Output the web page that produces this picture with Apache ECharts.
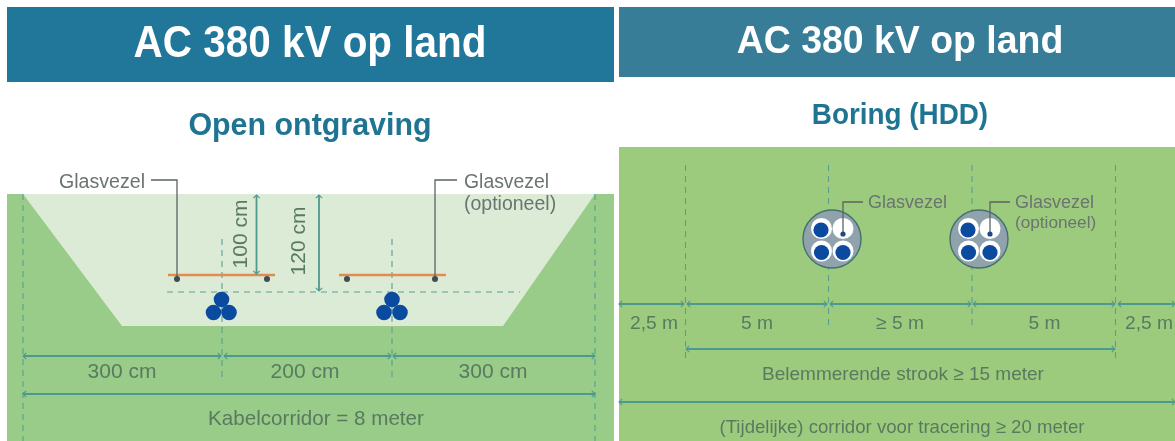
<!DOCTYPE html>
<html><head><meta charset="utf-8">
<style>html,body{margin:0;padding:0;background:#fff}#c{width:1175px;height:441px}</style>
<script src="https://cdn.jsdelivr.net/npm/echarts@6/dist/echarts.min.js"></script>
</head><body><div id="c"></div>
<script>
// Schematic geometry, in diagram units
const headerBands = [[7,7,614,82,'L'],[619,7,1175,77,'R']];
const groundAreas = [[7,194,614,441,'L'],[619,147,1175,441,'R']];
const trench = [[23,194],[595,194],[503,326],[122,326]];
const orangeBars = [[168,275,275],[339,275,446]];
const dashedV = [[23,194,441],[595,194,441],[222,239,377],[392,239,377],
                 [685.5,165,358],[828.5,165,328],[972,165,328],[1115.5,165,358]];
const dashedH = [[167,292,520]];
const dimH = [[23,221,356],[224,391,356],[393,595,356],[23,595,394],
              [619,684,304],[687,827,304],[830,971,304],[973,1115,304],[1118,1175,304],
              [686,1115,349],[619,1175,402]];
const dimV = [[256.5,195,274],[319,195,291]];
const leaders = [
  [[151,180],[177,180],[177,279]],[[457,180],[435,180],[435,279]],
  [[863,202],[843,202],[843,234]],[[1010,202],[990,202],[990,234]]];
const fibreDots = [[177,279],[267,279],[347,279],[435,279]];
const cableTrefoil = [[221.5,299.5],[213.5,312.5],[229,312.5],[392,299.5],[384,312.5],[400,312.5]];
const ductBodies = [[832,239],[979,239]];
const ductWhite = [[821.5,228.5],[843,228.5],[821.5,251],[843,251],[968.5,228.5],[990,228.5],[968.5,251],[990,251]];
const ductCable = [[821,230],[821.5,252.5],[843,252.5],[968,230],[968.5,252.5],[990,252.5]];
const ductFibre = [[843,234],[990,234]];
// Text
const headerTexts = [[310,45,'AC 380 kV op land',43.5,0.93],[900,42,'AC 380 kV op land',39.5,0.948]];
const subTitles = [[310,126,'Open ontgraving',32,0.95],[900,116,'Boring (HDD)',29,0.96]];
const calloutTexts = [[59,183,'Glasvezel',19.6],[464,183,'Glasvezel',19.4],[464,205,'(optioneel)',19.5],
  [868,203,'Glasvezel',18],[1015,203,'Glasvezel',18],[1015,223,'(optioneel)',17.2]];
const dimTexts = [[122,372,'300 cm',21],[305,372,'200 cm',21],[493,372,'300 cm',21],
  [316,419,'Kabelcorridor = 8 meter',20.6],
  [654,324,'2,5 m',19.2],[757,324,'5 m',19.2],[900,324,'≥ 5 m',19.2],[1044.5,324,'5 m',19.2],[1149,324,'2,5 m',19.2],
  [903,375,'Belemmerende strook ≥ 15 meter',19],
  [902,428,'(Tijdelijke) corridor voor tracering ≥ 20 meter',18.6]];
const verticalTexts = [[241,234,'100 cm',21],[299,241,'120 cm',21]];

const C = {hL:'#21779a',hR:'#387d98',gL:'#98cc88',gR:'#9dcb7e',trench:'#dcebd6',title:'#1f7492',
  dash:'#5a9f92',dim:'#4c9a8f',orange:'#e38a4e',lead:'#5a6460',dot:'#3f4c50',cable:'#0b4b9f',
  duct:'#90a3ad',ductEdge:'#44706f',call:'#6a7470',dimText:'#5a7a60'};
const FONT='"Liberation Sans",Arial,sans-serif';

function cust(name,data,draw,z){
  return {type:'custom',name,coordinateSystem:'cartesian2d',silent:true,clip:false,z:z||2,animation:false,
    encode:{x:0,y:1},data:data.map(d=>({value:[d[0],d[1]]})),
    renderItem:function(p,api){return draw(data[p.dataIndex],api);}};
}
function pt(api,x,y){return api.coord([x,y]);}
function rectOf(color){return (d,api)=>{const a=pt(api,d[0],d[1]),b=pt(api,d[2],d[3]);
  return {type:'rect',shape:{x:a[0],y:a[1],width:b[0]-a[0],height:b[1]-a[1]},style:{fill:color(d)}};};}
function circ(r,fill,stroke,w){return (d,api)=>{const a=pt(api,d[0],d[1]);
  return {type:'circle',shape:{cx:a[0],cy:a[1],r:r},style:{fill,stroke:stroke||null,lineWidth:w||0}};};}
function poly(points,stroke,w,dash){return {type:'polyline',shape:{points},style:{fill:null,stroke,lineWidth:w,lineDash:dash||null}};}
function text(fill,weight,align,rot){return (d,api)=>{const a=pt(api,d[0],d[1]);
  return {type:'text',x:a[0],y:a[1],rotation:rot||0,scaleX:d[4]||1,scaleY:1,style:{text:d[2],fill,font:(weight||'normal')+' '+d[3]+'px '+FONT,align:align,verticalAlign:'middle'}};};}
const chev=3.2;
function arrowH(d,api){const a=pt(api,d[0],d[2]),b=pt(api,d[1],d[2]);const s=C.dim;
  return {type:'group',children:[poly([a,b],s,1.8),
    poly([[a[0]+chev,a[1]-chev],a,[a[0]+chev,a[1]+chev]],s,1.1),
    poly([[b[0]-chev,b[1]-chev],b,[b[0]-chev,b[1]+chev]],s,1.1)]};}
function arrowV(d,api){const a=pt(api,d[0],d[1]),b=pt(api,d[0],d[2]);const s=C.dim;
  return {type:'group',children:[poly([a,b],s,1.8),
    poly([[a[0]-chev,a[1]+chev],a,[a[0]+chev,a[1]+chev]],s,1.1),
    poly([[b[0]-chev,b[1]-chev],b,[b[0]+chev,b[1]-chev]],s,1.1)]};}

const series=[
  cust('header',headerBands,rectOf(d=>d[4]==='L'?C.hL:C.hR)),
  cust('ground',groundAreas,rectOf(d=>d[4]==='L'?C.gL:C.gR)),
  cust('trench',[trench[0]],(d,api)=>({type:'polygon',shape:{points:trench.map(p=>pt(api,p[0],p[1]))},style:{fill:C.trench}})),
  cust('dashV',dashedV,(d,api)=>poly([pt(api,d[0],d[1]),pt(api,d[0],d[2])],C.dash,1.1,[6,5])),
  cust('dashH',dashedH,(d,api)=>poly([pt(api,d[0],d[1]),pt(api,d[2],d[1])],C.dash,1.1,[6,5])),
  cust('ductBody',ductBodies,circ(29,C.duct,C.ductEdge,1.4)),
  cust('ductWhite',ductWhite,circ(10.5,'#ffffff')),
  cust('ductCable',ductCable,circ(7.6,C.cable)),
  cust('orange',orangeBars,(d,api)=>poly([pt(api,d[0],d[1]),pt(api,d[2],d[1])],C.orange,2.6)),
  cust('leaders',leaders,(d,api)=>poly(d.map(p=>pt(api,p[0],p[1])),C.lead,1.3)),
  cust('fibreDots',fibreDots,circ(3,C.dot)),
  cust('ductFibre',ductFibre,circ(2.6,'#1d4a80')),
  cust('cables',cableTrefoil,circ(7.8,C.cable)),
  cust('dimH',dimH,arrowH),
  cust('dimV',dimV,arrowV),
  cust('headerText',headerTexts,text('#ffffff','bold','center')),
  cust('subTitle',subTitles,text(C.title,'bold','center')),
  cust('callouts',calloutTexts,text(C.call,'normal','left')),
  cust('dimText',dimTexts,text(C.dimText,'normal','center')),
  cust('verticalText',verticalTexts,text(C.dimText,'normal','center',Math.PI/2))
];
const chart=echarts.init(document.getElementById('c'),null,{renderer:'canvas'});
chart.setOption({animation:false,backgroundColor:'#ffffff',
  grid:{left:0,right:0,top:0,bottom:0},
  xAxis:{type:'value',min:0,max:1175,show:false},
  yAxis:{type:'value',min:0,max:441,inverse:true,show:false},
  series});
</script></body></html>
